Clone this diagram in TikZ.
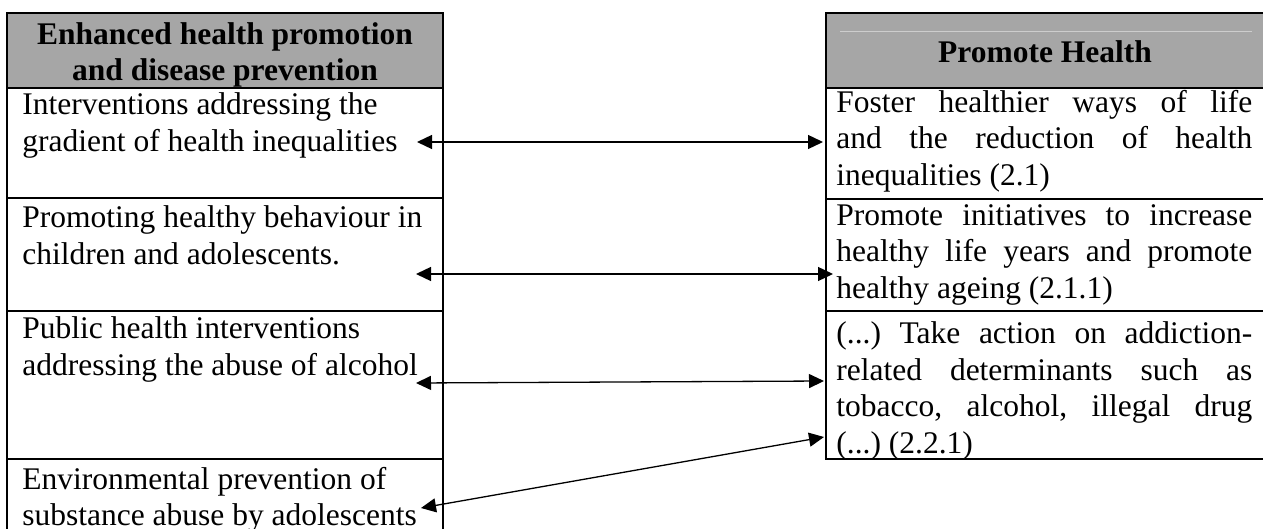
\documentclass[tikz,border=0pt]{standalone}
\usepackage{fontspec}
\setmainfont{Liberation Serif}
\usetikzlibrary{arrows.meta,fit}

\definecolor{headgrey}{RGB}{166,166,166}
\definecolor{rulegrey}{RGB}{205,205,205}

% strut that fixes the height of the first line of every cell text
\newcommand\firststrut{\rule{0pt}{12.8pt}}
% one fully justified line of the right-hand column
\newcommand\jline[1]{\makebox[208pt][s]{#1}}

\tikzset{
  cell/.style={rectangle, draw=black, line width=1.25pt, inner sep=0pt},
  headcell/.style={cell, fill=headgrey},
  bodytext/.style={inner sep=0pt, anchor=north west, align=left,
    font=\fontsize{15.75pt}{18.25pt}\selectfont\frenchspacing},
  headtext/.style={inner sep=0pt, anchor=north, align=center,
    font=\fontsize{15.75pt}{18.25pt}\selectfont\bfseries},
  link/.style={line width=0.65pt,
    {Triangle[length=7.5pt,width=7pt]}-{Triangle[length=7.5pt,width=7pt]}}
}

\begin{document}
\begin{tikzpicture}[x=0.5pt,y=-0.5pt]
\useasboundingbox (0,0) rectangle (1263,529);
\clip (0,0) rectangle (1263,529);

% left table
\node[headcell, fit={(7,13) (443,88)}] (LH) {};
\node[cell, fit={(7,88) (443,198)}] (L1) {};
\node[cell, fit={(7,198) (443,311)}] (L2) {};
\node[cell, fit={(7,311) (443,459)}] (L3) {};
\node[cell, fit={(7,459) (443,560)}] (L4) {};

% right table
\node[headcell, fit={(826,13) (1268,88)}] (RH) {};
\node[cell, fit={(826,88) (1268,199)}] (R1) {};
\node[cell, fit={(826,199) (1268,311)}] (R2) {};
\node[cell, fit={(826,311) (1268,459)}] (R3) {};
\draw[rulegrey, line width=0.5pt] (840,32) -- (1252,32);

% headings
\node[headtext] (LHt) at (225,18.5) {\firststrut Enhanced health promotion\\and disease prevention};
\node[headtext] (RHt) at (1045,36.5) {\firststrut Promote Health};

% left column texts
\node[bodytext] (L1t) at (22,89) {\firststrut Interventions addressing the\\gradient of health inequalities};
\node[bodytext] (L2t) at (22,201.5) {\firststrut Promoting healthy behaviour in\\children and adolescents.};
\node[bodytext] (L3t) at (22,312.5) {\firststrut Public health interventions\\addressing the abuse of alcohol};
\node[bodytext] (L4t) at (22,463) {\firststrut Environmental prevention of\\substance abuse by adolescents};

% right column texts
\node[bodytext] (R1t) at (836,86.5) {\firststrut\jline{Foster healthier ways of life}\\
  \jline{and the reduction of health}\\inequalities (2.1)};
\node[bodytext] (R2t) at (836,199.5) {\firststrut\jline{Promote initiatives to increase}\\
  \jline{healthy life years and promote}\\healthy ageing (2.1.1)};
\node[bodytext] (R3t) at (836,317.5) {\firststrut\jline{(...) Take action on addiction-}\\
  \jline{related determinants such as}\\
  \jline{tobacco, alcohol, illegal drug}\\(...) (2.2.1)};

% end points of the links
\coordinate (a1) at (417,142);  \coordinate (b1) at (823,142);
\coordinate (a2) at (416,274);  \coordinate (b2) at (833,274);
\coordinate (a3) at (416,383);  \coordinate (b3) at (824,381);
\coordinate (a4) at (421,508);  \coordinate (b4) at (824,437);

\draw[link] (a1) -- (b1);
\draw[link] (a2) -- (b2);
\draw[link] (a3) -- (b3);
\draw[link] (a4) -- (b4);
\end{tikzpicture}
\end{document}
